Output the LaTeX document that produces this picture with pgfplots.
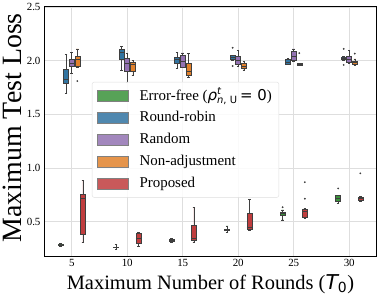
\documentclass[border=0pt]{standalone}
\usepackage{pgfplots}
\pgfplotsset{compat=1.18}
\usepgfplotslibrary{statistics}
\usepackage{fontspec}
\setmainfont{Liberation Serif}
\newfontfamily\dv{DejaVu Sans}
\definecolor{cG}{HTML}{3A923A}
\definecolor{cB}{HTML}{3274A1}
\definecolor{cP}{HTML}{9372B2}
\definecolor{cO}{HTML}{E1812C}
\definecolor{cR}{HTML}{C03D3E}
\definecolor{lgray}{HTML}{3F3F3F}
\definecolor{gridc}{HTML}{DEDEDE}
\pgfplotsset{
  bxs/.style={forget plot, draw=lgray, fill=#1, line width=0.55pt, solid,
    mark=*, mark size=0.6pt, mark options={draw=lgray, fill=lgray}},
}
% #1 colour, #2 position, #3 lw, #4 q1, #5 median, #6 q3, #7 uw
\newcommand{\bx}[7]{\addplot[bxs=#1, boxplot prepared={draw direction=y, box extend=0.09, whisker extend=0.045, draw position=#2, lower whisker=#3, lower quartile=#4, median=#5, upper quartile=#6, upper whisker=#7}] coordinates {};}
\newcommand{\bxo}[8]{\addplot[bxs=#1, boxplot prepared={draw direction=y, box extend=0.09, whisker extend=0.045, draw position=#2, lower whisker=#3, lower quartile=#4, median=#5, upper quartile=#6, upper whisker=#7}] table[row sep=\\, y index=0] {#8};}
\begin{document}
\begin{tikzpicture}
\begin{axis}[
  name=ax,
  scale only axis, width=333bp, height=249bp,
  xmin=-0.5, xmax=5.5, ymin=0.18, ymax=2.5,
  xtick={0,1,2,3,4,5}, xticklabels={5,10,15,20,25,30},
  ytick={0.5,1.0,1.5,2.0,2.5},
  yticklabels={0.5,1.0,1.5,2.0,2.5},
  tick label style={font=\fontsize{11}{11}\selectfont},
  major tick length=0pt,
  grid=major, grid style={draw=gridc, line width=0.8pt},
  axis line style={draw=black, line width=1pt},
  xlabel={Maximum Number of Rounds ({\dv\itshape T}$_{\hbox{\dv\fontsize{14}{14}\selectfont 0}}$)},
  ylabel={Maximum Test Loss},
  xlabel style={at={(axis description cs:0.5,0)}, anchor=base, yshift=-33bp, inner sep=0pt, font=\fontsize{20.5}{22}\selectfont},
  ylabel style={at={(axis description cs:-0.066,0.515)}, anchor=south, inner sep=0pt, font=\fontsize{28}{30}\selectfont},
  legend image code/.code={\draw[#1, line width=0.4pt, sharp corners] (0bp,-5.5bp) rectangle (31bp,5.5bp);},
  legend style={at={(rel axis cs:0.144,0.699)}, anchor=north west, draw=gridc, rounded corners=2bp,
    fill=white, fill opacity=0.85, text opacity=1, draw opacity=1,
    font=\fontsize{15}{15}\selectfont, inner sep=5bp, row sep=3.8bp, column sep=9bp,
    nodes={text height=11bp, text depth=3bp, inner sep=2bp}},
  legend cell align=left,
]
\addlegendimage{fill=cG, draw=gray}
\addlegendentry{Error-free ({\dv\itshape ρ}$^{\hbox{\dv\itshape\fontsize{10}{10}\selectfont t}}_{\hbox{\dv\fontsize{10}{10}\selectfont{\itshape n}, U}}$\,{\dv = 0})}
\addlegendimage{fill=cB, draw=gray}
\addlegendentry{Round-robin}
\addlegendimage{fill=cP, draw=gray}
\addlegendentry{Random}
\addlegendimage{fill=cO, draw=gray}
\addlegendentry{Non-adjustment}
\addlegendimage{fill=cR, draw=gray}
\addlegendentry{Proposed}
% T0 = 5
\bx{cG}{-0.2}{0.272}{0.279}{0.283}{0.287}{0.294}
\bx{cB}{-0.1}{1.695}{1.79}{1.83}{1.92}{2.06}
\bx{cP}{0.0}{1.88}{1.95}{1.98}{2.01}{2.075}
\bxo{cO}{0.1}{1.94}{1.95}{2.01}{2.04}{2.11}{1.81\\}
\bx{cR}{0.2}{0.31}{0.384}{0.72}{0.752}{0.884}
% T0 = 10
\bx{cG}{0.8}{0.245}{0.258}{0.262}{0.265}{0.285}
\bx{cB}{0.9}{1.91}{2.016}{2.075}{2.11}{2.135}
\bx{cP}{1.0}{1.80}{1.903}{1.972}{2.019}{2.066}
\bx{cO}{1.1}{1.86}{1.903}{1.969}{1.985}{2.003}
\bx{cR}{1.2}{0.27}{0.295}{0.342}{0.39}{0.40}
% T0 = 15
\bx{cG}{1.8}{0.31}{0.318}{0.327}{0.336}{0.345}
\bx{cB}{1.9}{1.93}{1.978}{2.016}{2.035}{2.078}
\bx{cP}{2.0}{1.94}{1.94}{1.994}{2.047}{2.072}
\bx{cO}{2.1}{1.846}{1.868}{1.90}{1.972}{2.066}
\bx{cR}{2.2}{0.31}{0.327}{0.342}{0.462}{0.635}
% T0 = 20
\bx{cG}{2.8}{0.40}{0.42}{0.425}{0.43}{0.46}
\bxo{cB}{2.9}{2.0}{2.009}{2.03}{2.047}{2.05}{2.12\\1.95\\}
\bx{cP}{3.0}{1.946}{1.969}{2.003}{2.04}{2.094}
\bx{cO}{3.1}{1.915}{1.925}{1.946}{1.975}{1.993}
\bx{cR}{3.2}{0.42}{0.427}{0.446}{0.578}{0.705}
% T0 = 25
\bxo{cG}{3.8}{0.516}{0.557}{0.575}{0.588}{0.61}{0.635\\}
\bx{cB}{3.9}{1.965}{1.97}{1.985}{2.016}{2.02}
\bx{cP}{4.0}{1.99}{2.0}{2.04}{2.087}{2.11}
\bxo{cO}{4.1}{1.958}{1.96}{1.966}{1.972}{1.972}{2.07\\}
\bxo{cR}{4.2}{0.535}{0.54}{0.594}{0.62}{0.625}{0.868\\0.714\\}
% T0 = 30
\bxo{cG}{4.8}{0.673}{0.689}{0.72}{0.742}{0.745}{0.81\\}
\bxo{cB}{4.9}{2.0}{2.01}{2.025}{2.035}{2.04}{2.11\\1.96\\}
\bx{cP}{5.0}{1.98}{1.988}{2.016}{2.04}{2.097}
\bxo{cO}{5.1}{1.956}{1.969}{1.985}{1.997}{2.016}{2.066\\}
\bxo{cR}{5.2}{0.69}{0.696}{0.715}{0.73}{0.735}{0.95\\}
\end{axis}
\pgfresetboundingbox
\path[use as bounding box] (ax.south west) ++(-44bp,-40bp) rectangle ++(382bp,296bp);
\end{tikzpicture}
\end{document}
